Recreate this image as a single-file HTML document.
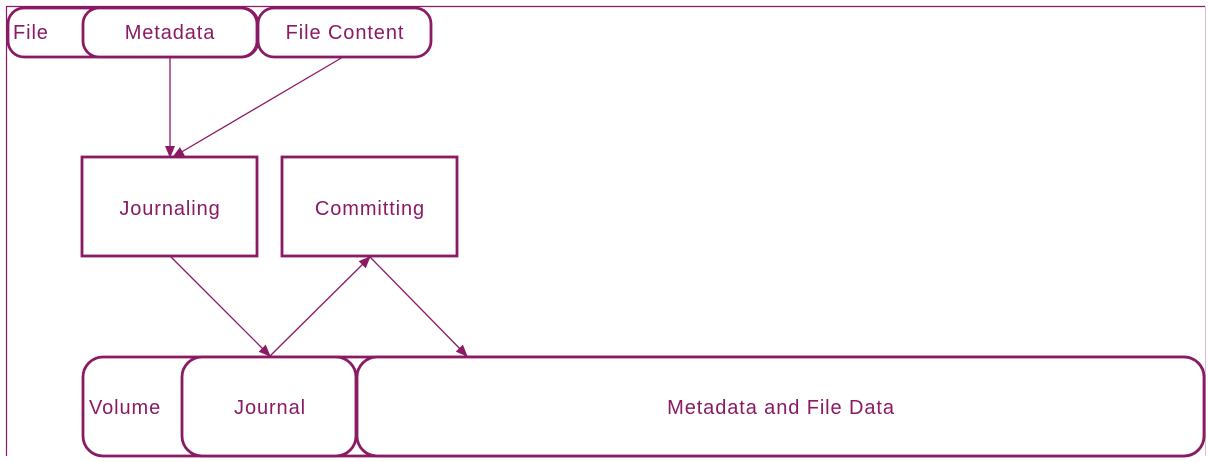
<!DOCTYPE html>
<html><head><style>body{margin:0;background:#fff}svg{display:block}text{font-family:"Liberation Sans",sans-serif;font-size:20px;letter-spacing:0.9px;fill:#8a1a63}</style></head><body>
<svg width="1208" height="462" viewBox="0 0 1208 462" xmlns="http://www.w3.org/2000/svg">
<defs><marker id="a" markerWidth="12" markerHeight="10" refX="11" refY="5" orient="auto" markerUnits="userSpaceOnUse"><path d="M0,0 L12,5 L0,10 z" fill="#8a1a63"/></marker></defs>
<g fill="none" stroke="#8a1a63">
<path d="M6.5,456 V6.5 H1205" stroke-width="1.2"/>
<path d="M1205.5,6.5 V456" stroke="#d8bfd0" stroke-width="1"/>
</g>
<g fill="#fff" stroke="#8a1a63" stroke-width="2.8">
<rect x="8" y="8" width="250" height="49" rx="16"/>
<rect x="83" y="8" width="174" height="49" rx="16"/>
<rect x="258" y="8" width="173" height="49" rx="16"/>
<rect x="82" y="157" width="175" height="99"/>
<rect x="282" y="157" width="175" height="99"/>
<rect x="83" y="357" width="1121" height="99" rx="20"/>
<rect x="182" y="357" width="174" height="99" rx="20"/>
<rect x="357" y="357" width="847" height="99" rx="20"/>
</g>
<g stroke="#8a1a63" stroke-width="1.3" marker-end="url(#a)">
<line x1="170" y1="57" x2="170" y2="157"/>
<line x1="343" y1="57" x2="173" y2="157"/>
<line x1="170" y1="256" x2="270" y2="356"/>
<line x1="270" y1="356" x2="370" y2="257"/>
<line x1="370" y1="257" x2="467" y2="356"/>
</g>
<text x="13" y="39">File</text>
<text x="170" y="39" text-anchor="middle">Metadata</text>
<text x="345" y="39" text-anchor="middle">File Content</text>
<text x="170" y="215" text-anchor="middle">Journaling</text>
<text x="370" y="215" text-anchor="middle">Committing</text>
<text x="89" y="414">Volume</text>
<text x="270" y="414" text-anchor="middle">Journal</text>
<text x="781" y="414" text-anchor="middle">Metadata and File Data</text>
</svg>
</body></html>
